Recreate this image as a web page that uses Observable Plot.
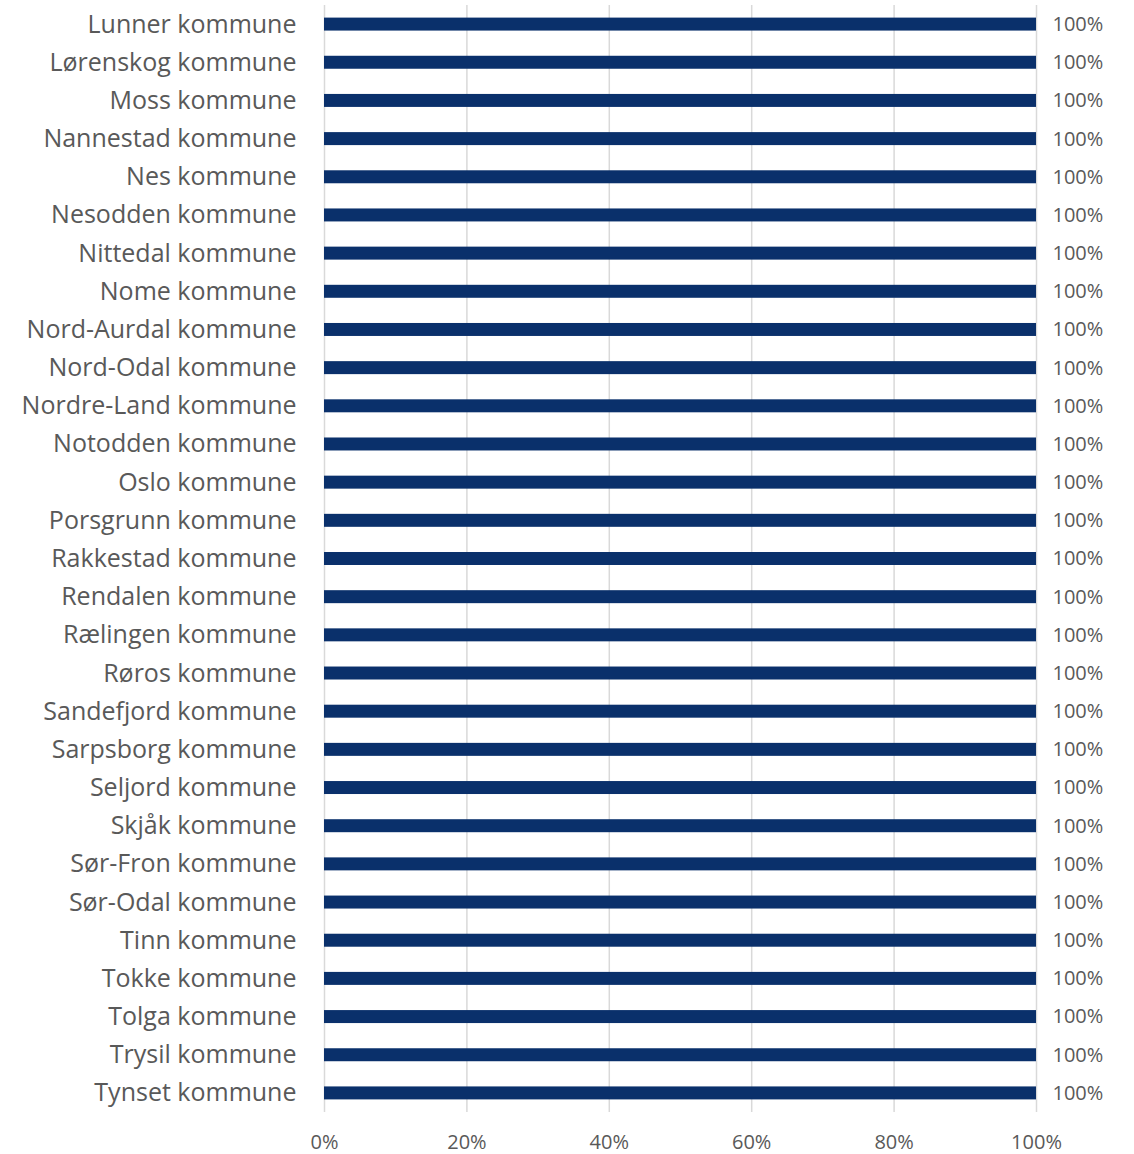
<!DOCTYPE html>
<html>
<head>
<meta charset="utf-8">
<script src="https://cdn.jsdelivr.net/npm/d3@7"></script>
<script src="https://cdn.jsdelivr.net/npm/@observablehq/plot@0.6"></script>
<style>
  html, body { margin: 0; padding: 0; background: #fff; }
  #chart svg { display: block; }
</style>
</head>
<body>
<div id="chart"></div>
<script>
const categories = [
  "Lunner kommune", "Lørenskog kommune", "Moss kommune", "Nannestad kommune",
  "Nes kommune", "Nesodden kommune", "Nittedal kommune", "Nome kommune",
  "Nord-Aurdal kommune", "Nord-Odal kommune", "Nordre-Land kommune",
  "Notodden kommune", "Oslo kommune", "Porsgrunn kommune", "Rakkestad kommune",
  "Rendalen kommune", "Rælingen kommune", "Røros kommune", "Sandefjord kommune",
  "Sarpsborg kommune", "Seljord kommune", "Skjåk kommune", "Sør-Fron kommune",
  "Sør-Odal kommune", "Tinn kommune", "Tokke kommune", "Tolga kommune",
  "Trysil kommune", "Tynset kommune"
];
const values = [
  100, 100, 100, 100, 100, 100, 100, 100, 100, 100,
  100, 100, 100, 100, 100, 100, 100, 100, 100, 100,
  100, 100, 100, 100, 100, 100, 100, 100, 100
];
const xTicks = [0, 20, 40, 60, 80, 100];

const data = categories.map((c, i) => ({ name: c, value: values[i] }));

const textColor = "#595959";
const chart = Plot.plot({
  width: 1134,
  height: 1154,
  marginLeft: 324,
  marginRight: 98,
  marginTop: 5,
  marginBottom: 42,
  style: { fontFamily: "'Open Sans', sans-serif", color: textColor, background: "#fff" },
  x: { domain: [0, 100] },
  y: { domain: categories, paddingInner: 0.66, paddingOuter: 0.33, round: false },
  marks: [
    Plot.gridX(xTicks, { stroke: "#d9d9d9", strokeOpacity: 1, strokeWidth: 1.5 }),
    Plot.barX(data, { x: "value", y: "name", fill: "#0a306b" }),
    Plot.text(data, {
      x: "value", y: "name", text: d => d.value + "%",
      textAnchor: "start", dx: 16, fontSize: 20, fill: textColor
    }),
    Plot.axisY({ tickSize: 0, tickPadding: 28, fontSize: 25, label: null, fill: textColor }),
    Plot.axisX(xTicks, { tickSize: 0, tickPadding: 22, fontSize: 20, label: null, tickFormat: d => d + "%", fill: textColor })
  ]
});
document.getElementById("chart").appendChild(chart);
</script>
</body>
</html>
